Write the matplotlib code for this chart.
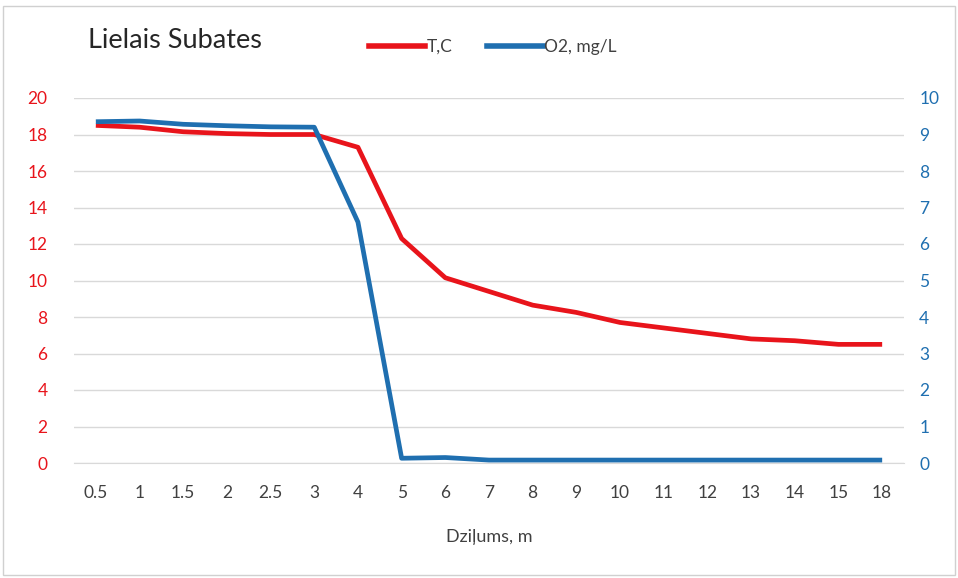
import matplotlib
matplotlib.use("Agg")
import matplotlib.pyplot as plt
from matplotlib.patches import Rectangle
from matplotlib.lines import Line2D

depths = ["0.5", "1", "1.5", "2", "2.5", "3", "4", "5", "6", "7", "8", "9",
          "10", "11", "12", "13", "14", "15", "18"]
temp_c = [18.5, 18.4, 18.15, 18.05, 18.0, 18.0, 17.3, 12.3, 10.15, 9.4, 8.65,
          8.25, 7.7, 7.4, 7.1, 6.8, 6.7, 6.5, 6.5]
o2_mgl = [9.35, 9.37, 9.28, 9.24, 9.21, 9.2, 6.6, 0.13, 0.15, 0.08, 0.08,
          0.08, 0.08, 0.08, 0.08, 0.08, 0.08, 0.08, 0.08]
left_ticks = [0, 2, 4, 6, 8, 10, 12, 14, 16, 18, 20]
right_ticks = [0, 1, 2, 3, 4, 5, 6, 7, 8, 9, 10]

RED = "#E8141B"
BLUE = "#1F6FB0"
FONT = ["Lato", "DejaVu Sans"]
plt.rcParams["font.family"] = FONT

fig = plt.figure(figsize=(9.58, 5.78), dpi=100)
ax = fig.add_axes([74/958, 1-463/578, (904-74)/958, (463-98)/578])
ax2 = ax.twinx()

x = list(range(len(depths)))
ax.plot(x, temp_c, color=RED, lw=3.4, solid_capstyle="butt", zorder=3)
ax2.plot(x, o2_mgl, color=BLUE, lw=3.4, solid_capstyle="butt", zorder=3)

ax.set_xlim(-0.5, len(depths)-0.5)
ax.set_ylim(0, 20)
ax2.set_ylim(0, 10)
ax.set_yticks(left_ticks)
ax2.set_yticks(right_ticks)
ax.set_xticks(x)
ax.set_xticklabels(depths)

ax.grid(axis="y", color="#D9D9D9", lw=1.0)
ax.set_axisbelow(True)
for a in (ax, ax2):
    for s in a.spines.values():
        s.set_visible(False)
ax.spines["bottom"].set_visible(True)
ax.spines["bottom"].set_color("#D9D9D9")

ax.tick_params(axis="x", length=0, pad=16, labelsize=12.5, labelcolor="#404040")
ax.tick_params(axis="y", length=0, pad=19, labelsize=12.5, labelcolor=RED)
ax2.tick_params(axis="y", length=0, pad=11, labelsize=12.5, labelcolor=BLUE)

ax.set_xlabel("Dziļums, m", fontsize=13, color="#404040", labelpad=20)

fig.text(88/958, 1-40/578, "Lielais Subates", fontsize=19.5, color="#262626",
         va="center", ha="left")

handles = [Line2D([], [], color=RED, lw=4), Line2D([], [], color=BLUE, lw=4)]
fig.legend(handles, ["T,C", "O2, mg/L"], loc="center", ncol=2,
           bbox_to_anchor=(493/958, 1-47/578), frameon=False, fontsize=12.5,
           handlelength=3.2, handletextpad=0.1, columnspacing=2.0,
           labelcolor="#404040")

fig.patches.append(Rectangle((3/958, 3/578), 952/958, 569/578,
                             transform=fig.transFigure, fill=False,
                             edgecolor="#D0D0D0", lw=1.0))

fig.savefig("out.png", dpi=100)
